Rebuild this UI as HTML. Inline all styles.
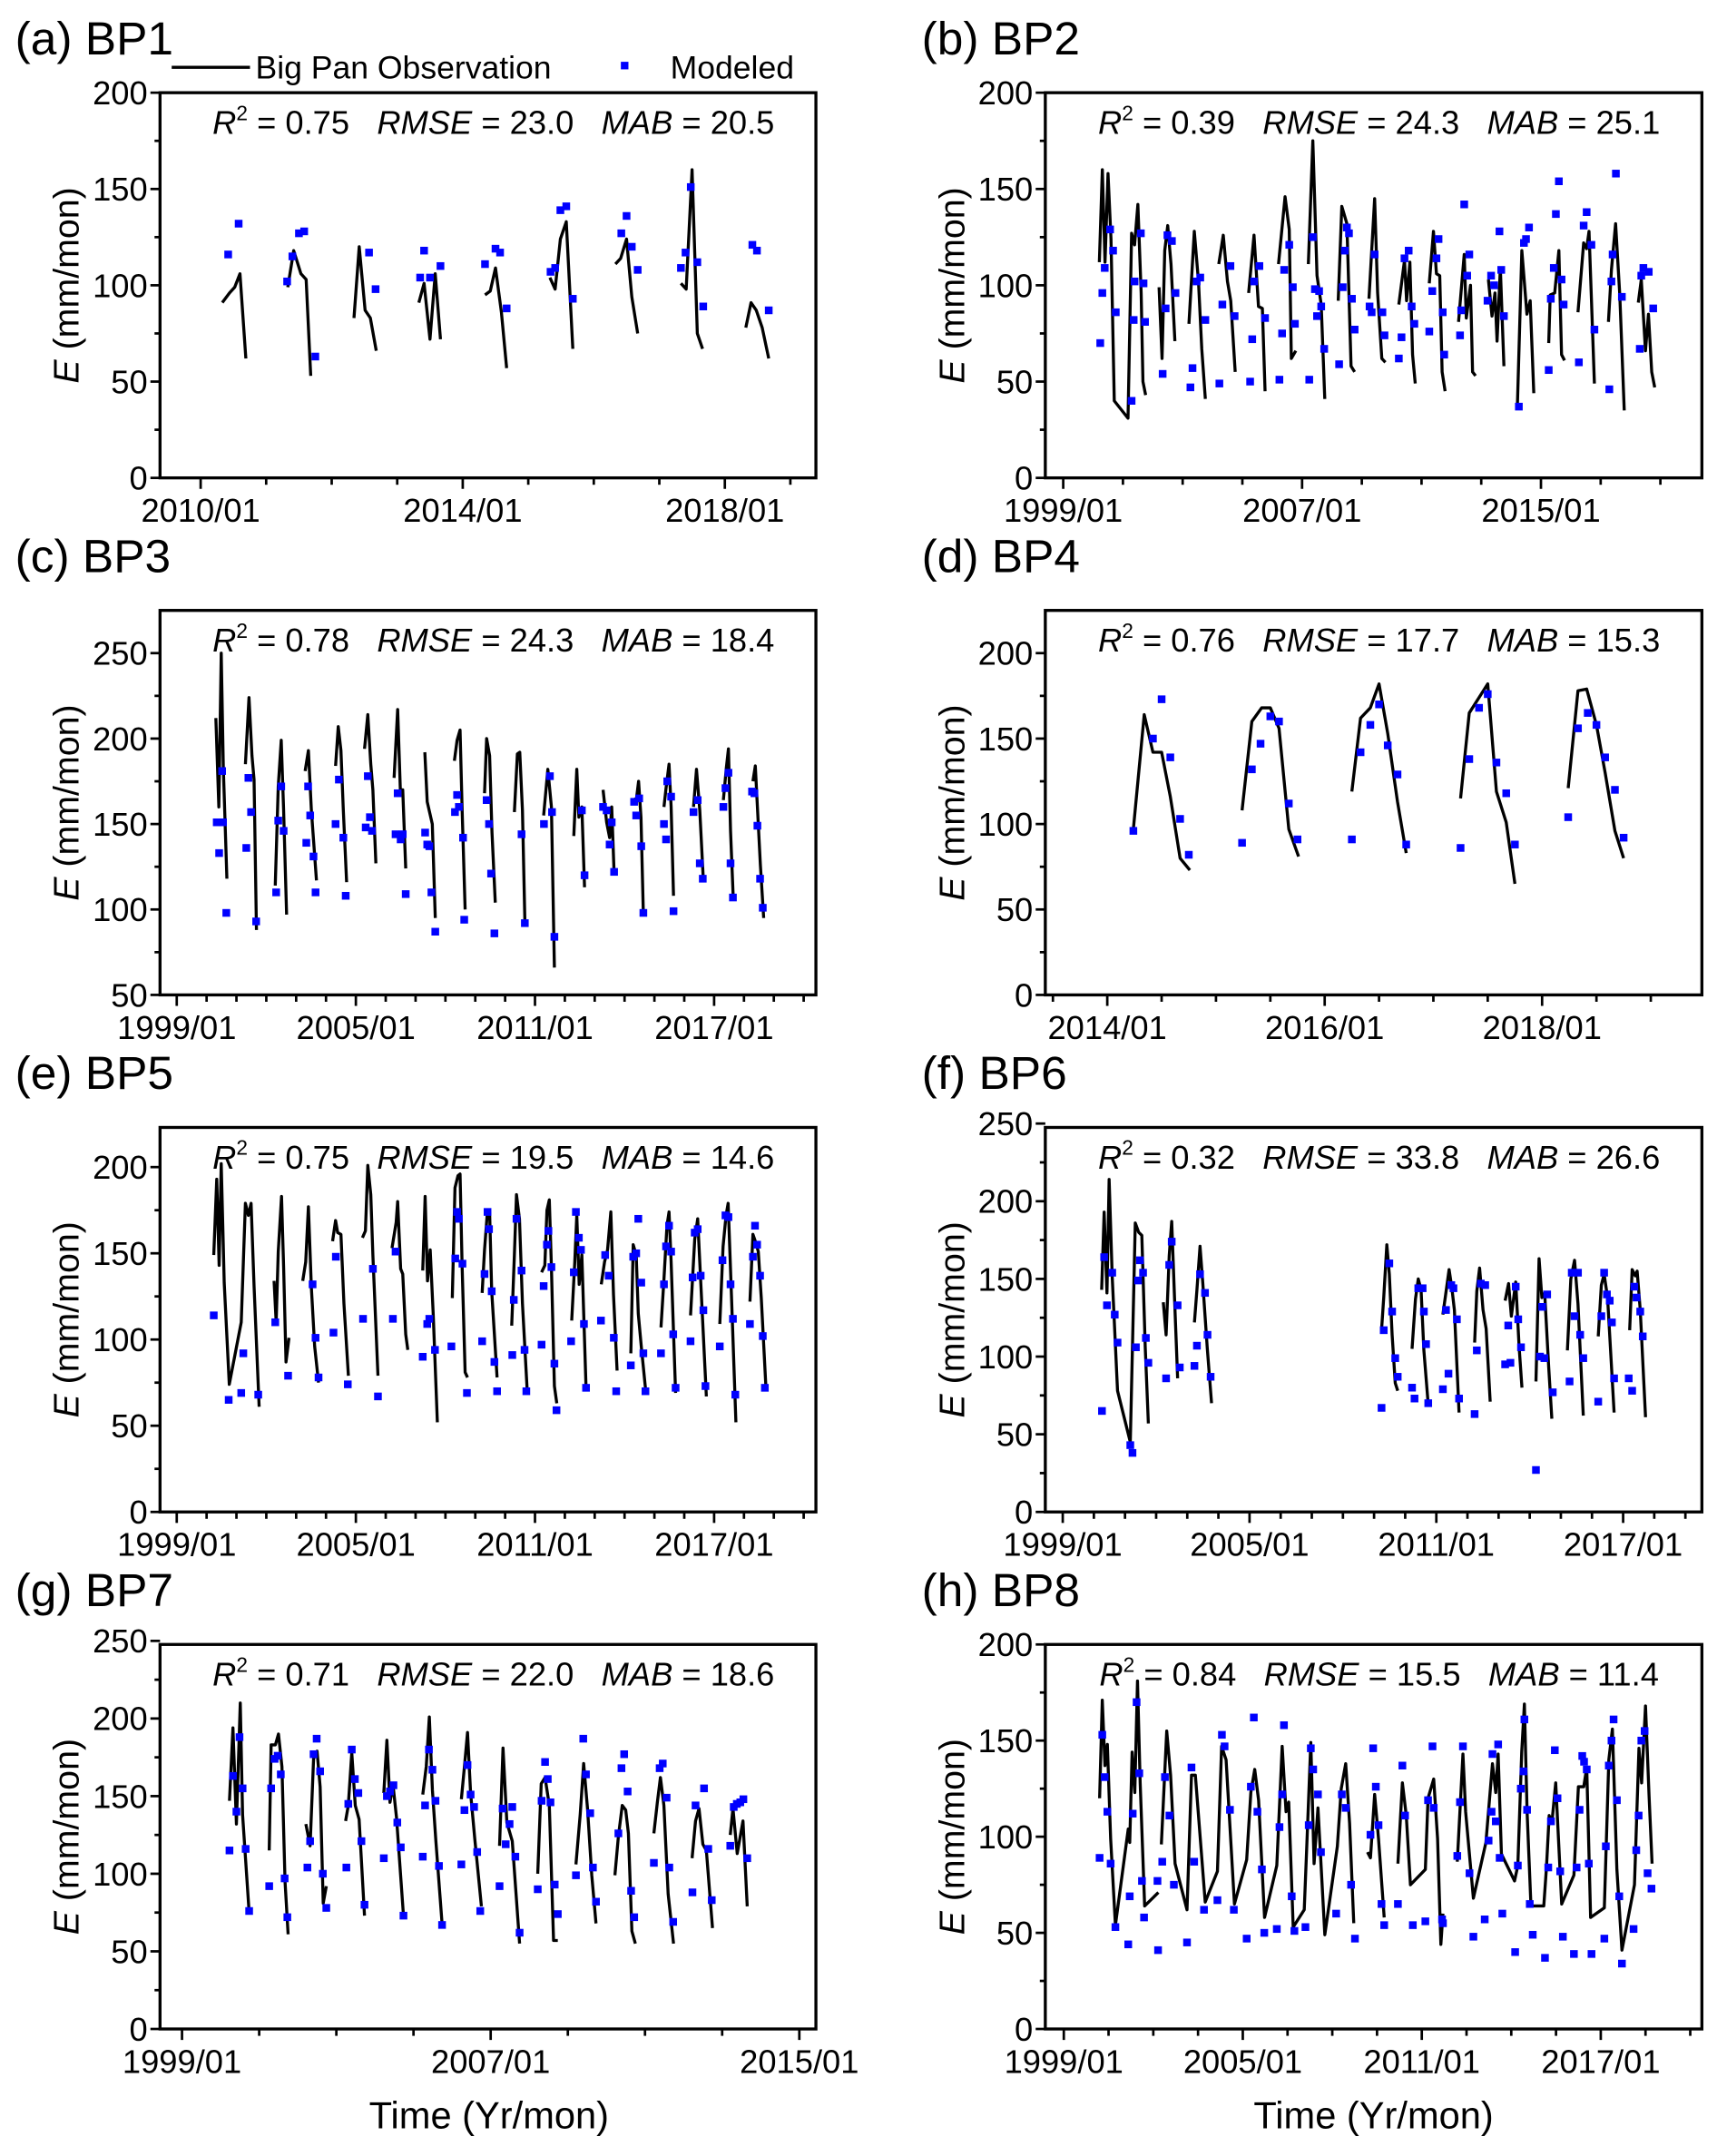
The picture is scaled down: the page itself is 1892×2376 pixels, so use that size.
<!DOCTYPE html>
<html><head><meta charset="utf-8"><title>Big Pan E comparison</title>
<style>
html,body{margin:0;padding:0;background:#fff;}
svg{display:block;font-family:"Liberation Sans",Arial,sans-serif;}
text{white-space:pre;}
</style></head>
<body>
<svg id="fig" width="1892" height="2376" viewBox="0 0 1250 1570" preserveAspectRatio="none" xmlns="http://www.w3.org/2000/svg">
<g>
<line x1="125" y1="49" x2="182" y2="49" stroke="#000" stroke-width="2.2"/>
<text x="186" y="57" font-size="23.5">Big Pan Observation</text>
<rect x="452" y="45" width="5.5" height="5.5" fill="#0000ff"/>
<text x="488" y="57" font-size="23.5">Modeled</text>
</g>
<text x="356" y="1550" font-size="27.5" text-anchor="middle">Time (Yr/mon)</text>
<text x="1000" y="1550" font-size="27.5" text-anchor="middle">Time (Yr/mon)</text>
</svg>
<script>
// ---- Panel (a) BP1 ----
const aObsT=[[2010.33,2010.44,2010.52,2010.6,2010.69],[2011.33,2011.42,2011.53,2011.61,2011.68],[2012.34,2012.42,2012.51,2012.59,2012.68],[2013.33,2013.41,2013.5,2013.58,2013.66],[2014.34,2014.42,2014.5,2014.59,2014.67],[2015.33,2015.41,2015.49,2015.58,2015.68],[2016.33,2016.41,2016.5,2016.58,2016.67],[2017.33,2017.41,2017.5,2017.58,2017.66],[2018.32,2018.4,2018.48,2018.57,2018.67]];
const aObsV=[[91,96,99,106,62],[99,118,106,103,53],[83,120,87,83,66],[91,101,72,106,72],[95,97,109,86,57],[104,98,124,133,67],[111,114,124,94,75],[101,98,160,75,67],[78,91,87,78,62]];
const aModT=[2010.42,2010.58,2011.32,2011.4,2011.5,2011.58,2011.75,2012.57,2012.67,2013.35,2013.41,2013.5,2013.66,2014.34,2014.5,2014.57,2014.67,2015.34,2015.41,2015.49,2015.58,2015.68,2016.42,2016.5,2016.58,2016.67,2017.33,2017.4,2017.48,2017.58,2017.67,2018.42,2018.49,2018.67];
const aModV=[116,132,102,115,127,128,63,117,98,104,118,104,110,111,119,117,88,107,109,139,141,93,127,136,120,108,109,117,151,112,89,121,118,87];
// ---- Panel (b) BP2 ----
const bObsT=[[2000.21,2000.31,2000.40,2000.50,2000.60,2000.71,2001.17,2001.29,2001.39,2001.5,2001.61,2001.67,2001.76],[2002.21,2002.31,2002.4,2002.5,2002.61,2002.74],[2003.21,2003.39,2003.53,2003.64,2003.76],[2004.21,2004.36,2004.5,2004.61,2004.76],[2005.21,2005.39,2005.54,2005.67,2005.76],[2006.21,2006.43,2006.57,2006.64,2006.79],[2007.21,2007.36,2007.5,2007.64,2007.76],[2008.21,2008.33,2008.5,2008.64,2008.76],[2009.24,2009.43,2009.53,2009.67,2009.79],[2010.24,2010.43,2010.5,2010.61,2010.7,2010.79],[2011.26,2011.4,2011.5,2011.61,2011.69,2011.79],[2012.24,2012.43,2012.5,2012.64,2012.71,2012.81],[2013.24,2013.36,2013.46,2013.53,2013.64,2013.76],[2014.21,2014.36,2014.53,2014.64,2014.76],[2015.26,2015.31,2015.46,2015.6,2015.69,2015.79],[2016.24,2016.43,2016.53,2016.61,2016.79],[2017.26,2017.36,2017.5,2017.64,2017.79],[2018.26,2018.36,2018.5,2018.6,2018.71,2018.81]];
const bObsV=[[112,160,112,158,124,40,31,127,121,142,96,50,43],[99,62,118,131,111,71],[80,128,102,67,41],[111,126,102,92,55],[96,126,89,88,45],[111,146,129,62,66],[111,175,105,90,41],[92,141,132,58,55],[93,145,96,62,60],[90,113,92,112,64,49],[101,128,106,105,55,45],[81,116,83,100,55,53],[103,84,96,71,109,58],[37,118,85,92,44],[70,95,96,118,64,61],[86,122,119,128,49],[81,108,132,95,35],[91,103,66,85,55,47]];
const bModT=[2000.24,2000.31,2000.39,2000.57,2000.67,2000.76,2001.29,2001.36,2001.39,2001.6,2001.69,2001.74,2002.33,2002.43,2002.49,2002.64,2002.76,2003.26,2003.33,2003.47,2003.59,2003.76,2004.23,2004.33,2004.6,2004.74,2005.26,2005.33,2005.39,2005.57,2005.76,2006.24,2006.33,2006.4,2006.57,2006.69,2006.76,2007.24,2007.36,2007.43,2007.5,2007.57,2007.64,2007.74,2008.24,2008.36,2008.43,2008.5,2008.57,2008.67,2008.76,2009.26,2009.33,2009.43,2009.69,2009.76,2010.24,2010.33,2010.43,2010.57,2010.67,2010.76,2011.26,2011.36,2011.5,2011.57,2011.71,2011.76,2012.29,2012.33,2012.43,2012.53,2012.6,2013.21,2013.33,2013.43,2013.61,2013.67,2013.76,2014.26,2014.43,2014.5,2014.6,2015.26,2015.33,2015.43,2015.5,2015.6,2015.69,2015.76,2016.27,2016.43,2016.53,2016.69,2016.79,2017.29,2017.36,2017.4,2017.51,2017.71,2018.31,2018.36,2018.43,2018.61,2018.76];
const bModV=[70,96,109,129,118,86,40,82,102,127,101,81,54,88,126,123,96,47,57,102,104,82,49,90,110,84,50,72,102,110,83,51,75,108,121,99,80,51,125,98,84,97,89,67,59,99,118,130,127,93,77,89,86,116,86,74,62,73,114,118,89,80,76,97,114,124,86,64,74,87,142,105,116,92,105,100,128,108,84,37,122,124,130,56,93,109,137,154,103,90,60,131,138,121,77,46,102,116,158,94,67,105,109,107,88];
// ---- Panel (c) BP3 ----
const cObsT=[[2000.31,2000.41,2000.49,2000.56,2000.68],[2001.3,2001.42,2001.52,2001.59,2001.67],[2002.3,2002.4,2002.5,2002.58,2002.68],[2003.3,2003.41,2003.51,2003.68],[2004.32,2004.41,2004.5,2004.58,2004.69],[2005.29,2005.4,2005.5,2005.57,2005.67],[2006.28,2006.4,2006.49,2006.57,2006.67],[2007.31,2007.39,2007.56,2007.66],[2008.3,2008.39,2008.49,2008.56,2008.66],[2009.31,2009.38,2009.48,2009.56,2009.67],[2010.31,2010.41,2010.49,2010.58,2010.66],[2011.29,2011.43,2011.55,2011.65],[2012.3,2012.4,2012.47,2012.57,2012.66],[2013.28,2013.4,2013.5,2013.57,2013.65],[2014.28,2014.4,2014.47,2014.55,2014.63],[2015.32,2015.39,2015.49,2015.56,2015.64],[2016.31,2016.41,2016.52,2016.64],[2017.31,2017.41,2017.48,2017.55,2017.64],[2018.3,2018.38,2018.45,2018.55,2018.66]];
const cObsV=[[212,160,250,183,118],[185,224,190,176,88],[114,172,199,158,97],[181,193,158,117],[184,207,193,158,116],[194,214,185,170,127],[177,217,170,170,124],[192,163,150,95],[187,199,205,158,100],[168,200,190,145,104],[157,191,192,158,94],[155,182,160,66],[143,182,154,160,113],[170,151,142,160,121],[164,165,175,154,97],[160,171,185,160,108],[160,182,158,117],[164,183,194,146,107],[175,184,160,126,95]];
const cModT=[2000.34,2000.42,2000.52,2000.55,2000.66,2001.33,2001.4,2001.49,2001.66,2002.33,2002.4,2002.5,2002.58,2003.34,2003.4,2003.47,2003.58,2003.65,2004.32,2004.43,2004.58,2004.66,2005.33,2005.4,2005.47,2005.54,2006.33,2006.4,2006.5,2006.57,2006.67,2007.32,2007.39,2007.46,2007.53,2007.66,2008.32,2008.39,2008.45,2008.59,2008.63,2009.38,2009.46,2009.53,2009.64,2010.55,2010.66,2011.3,2011.5,2011.57,2011.65,2012.57,2012.66,2013.28,2013.4,2013.5,2013.57,2013.65,2014.32,2014.39,2014.49,2014.56,2014.63,2015.32,2015.39,2015.43,2015.56,2015.64,2016.31,2016.45,2016.52,2016.62,2017.31,2017.38,2017.48,2017.55,2017.63,2018.27,2018.35,2018.45,2018.54,2018.63];
const cModV=[151,133,181,151,98,136,177,157,93,110,152,172,146,139,172,155,131,110,150,176,142,108,148,178,154,146,144,168,141,144,109,145,138,137,110,87,157,167,160,142,94,164,150,121,86,144,92,150,178,157,84,158,120,160,158,138,151,122,163,155,165,137,98,150,141,175,166,99,157,164,127,118,160,171,180,127,107,169,168,149,118,101];
// ---- Panel (d) BP4 ----
const dObsT=[[2014.24,2014.34,2014.42,2014.5,2014.58,2014.67,2014.76],[2015.24,2015.33,2015.42,2015.5,2015.58,2015.67,2015.76],[2016.25,2016.33,2016.42,2016.5,2016.58,2016.67,2016.75],[2017.25,2017.33,2017.42,2017.5,2017.58,2017.67,2017.75],[2018.24,2018.33,2018.41,2018.5,2018.58,2018.67,2018.75]];
const dObsV=[[97,164,142,142,116,80,73],[108,160,168,168,156,97,81],[119,162,168,182,153,113,83],[115,165,174,182,119,101,65],[121,178,179,158,130,96,80]];
const dModT=[2014.24,2014.42,2014.5,2014.58,2014.67,2014.75,2015.24,2015.33,2015.41,2015.5,2015.58,2015.67,2015.75,2016.25,2016.33,2016.42,2016.5,2016.58,2016.67,2016.75,2017.25,2017.33,2017.42,2017.5,2017.58,2017.67,2017.75,2018.24,2018.33,2018.42,2018.5,2018.58,2018.67,2018.75];
const dModV=[96,150,173,139,103,82,89,132,147,163,160,112,91,91,142,158,170,146,129,88,86,138,168,176,136,118,88,104,156,165,158,139,120,92];
// ---- Panel (e) BP5 ----
const eObsT=[[2000.24,2000.34,2000.42,2000.49,2000.59,2000.76,2001.16,2001.3,2001.4,2001.49,2001.59,2001.76],[2002.26,2002.33,2002.4,2002.51,2002.58,2002.66,2002.76],[2003.22,2003.32,2003.41,2003.51,2003.62,2003.75],[2004.22,2004.32,2004.39,2004.5,2004.6,2004.75],[2005.22,2005.32,2005.4,2005.5,2005.57,2005.74],[2006.21,2006.35,2006.4,2006.5,2006.57,2006.67,2006.74],[2007.24,2007.32,2007.4,2007.49,2007.59,2007.73],[2008.23,2008.32,2008.42,2008.49,2008.56,2008.66,2008.74],[2009.23,2009.31,2009.41,2009.48,2009.55,2009.73],[2010.22,2010.31,2010.38,2010.48,2010.58,2010.74],[2011.22,2011.33,2011.4,2011.48,2011.55,2011.65,2011.73],[2012.23,2012.33,2012.4,2012.48,2012.57,2012.71],[2013.22,2013.33,2013.43,2013.54,2013.63,2013.75],[2014.21,2014.29,2014.39,2014.46,2014.56,2014.71],[2015.22,2015.32,2015.42,2015.49,2015.56,2015.71],[2016.21,2016.35,2016.45,2016.55,2016.74],[2017.19,2017.3,2017.4,2017.47,2017.58,2017.73],[2018.2,2018.3,2018.4,2018.48,2018.58,2018.73]];
const eObsV=[[149,193,143,202,133,74,110,179,172,179,131,61],[134,110,151,183,142,87,101],[134,145,177,130,96,75],[157,169,162,161,121,79],[159,163,201,184,149,79],[153,168,180,141,138,103,94],[140,183,134,152,115,52],[124,188,195,196,142,81,78],[127,152,175,174,128,78],[108,149,184,170,121,70],[139,143,175,181,142,73,63],[111,144,172,132,149,72],[132,145,152,174,126,82],[92,155,149,115,96,70],[107,135,166,174,145,69],[114,158,170,134,67],[109,154,172,179,126,52],[122,161,156,151,124,74]];
const eModT=[2000.24,2000.74,2001.16,2001.23,2001.73,2002.3,2002.73,2003.55,2003.65,2003.75,2004.25,2004.33,2004.73,2005.24,2005.57,2005.74,2006.24,2006.33,2007.24,2007.39,2007.46,2007.65,2008.2,2008.33,2008.39,2008.45,2008.57,2008.72,2009.23,2009.31,2009.41,2009.46,2009.55,2009.64,2009.73,2010.24,2010.29,2010.38,2010.55,2010.65,2010.71,2011.22,2011.29,2011.4,2011.45,2011.55,2011.65,2011.72,2012.21,2012.3,2012.37,2012.47,2012.54,2012.64,2012.71,2013.21,2013.35,2013.47,2013.64,2013.72,2014.21,2014.29,2014.39,2014.46,2014.56,2014.63,2014.7,2015.22,2015.32,2015.39,2015.49,2015.56,2015.63,2015.71,2016.21,2016.28,2016.35,2016.45,2016.55,2016.64,2016.71,2017.19,2017.28,2017.38,2017.48,2017.55,2017.63,2017.71,2018.2,2018.3,2018.37,2018.44,2018.54,2018.63,2018.7];
const eModV=[114,65,69,92,68,110,79,132,101,78,104,148,74,112,141,67,112,151,90,109,112,94,96,147,174,170,144,69,99,138,174,164,128,87,70,91,123,170,140,94,70,97,131,155,163,142,86,59,99,139,174,159,152,109,72,111,149,137,101,70,85,148,150,170,133,92,70,92,132,154,166,151,103,72,99,136,162,164,137,117,73,96,146,172,171,132,112,68,109,148,166,155,137,102,72];
// ---- Panel (f) BP6 ----
const fObsT=[[2000.25,2000.33,2000.42,2000.49,2000.59,2000.76,2001.17,2001.33,2001.44,2001.54,2001.65,2001.75],[2002.23,2002.32,2002.42,2002.5,2002.59,2002.69],[2003.23,2003.31,2003.41,2003.5,2003.64,2003.78],[2009.24,2009.31,2009.41,2009.49,2009.58,2009.68,2009.76],[2010.22,2010.33,2010.42,2010.51,2010.6,2010.74],[2011.21,2011.3,2011.41,2011.5,2011.58,2011.73],[2012.23,2012.3,2012.39,2012.5,2012.6,2012.73],[2013.21,2013.32,2013.41,2013.55,2013.66,2013.75],[2014.2,2014.3,2014.39,2014.48,2014.61,2014.71],[2015.21,2015.32,2015.44,2015.55,2015.72],[2016.2,2016.3,2016.39,2016.5,2016.71],[2017.21,2017.29,2017.39,2017.45,2017.55,2017.72]];
const fObsV=[[143,193,141,214,151,78,45,186,180,178,106,57],[135,114,165,187,138,86],[122,143,171,147,106,70],[117,138,172,153,114,83,78],[105,137,150,143,104,69],[127,140,156,144,130,64],[109,142,157,130,118,71],[136,147,126,148,106,80],[84,163,138,141,93,60],[104,150,162,134,62],[113,146,153,138,64],[117,156,152,155,130,61]];
const fModT=[2000.26,2000.33,2000.42,2000.59,2000.67,2000.76,2001.17,2001.24,2001.35,2001.42,2001.48,2001.58,2001.67,2001.75,2002.32,2002.42,2002.5,2002.69,2002.76,2003.23,2003.31,2003.41,2003.57,2003.65,2003.75,2009.24,2009.31,2009.49,2009.58,2009.68,2009.76,2010.22,2010.3,2010.42,2010.56,2010.6,2010.67,2010.74,2011.21,2011.31,2011.39,2011.48,2011.55,2011.66,2011.73,2012.23,2012.3,2012.43,2012.57,2013.21,2013.31,2013.38,2013.55,2013.63,2013.72,2014.2,2014.33,2014.4,2014.47,2014.56,2014.74,2015.28,2015.35,2015.44,2015.55,2015.62,2015.72,2016.2,2016.3,2016.39,2016.48,2016.57,2016.64,2016.71,2017.18,2017.29,2017.36,2017.43,2017.55,2017.63];
const fModV=[65,164,133,154,127,109,43,38,106,149,162,154,112,96,86,159,174,133,93,94,107,153,141,114,87,67,117,160,129,99,87,80,73,144,144,129,108,70,79,130,89,146,144,124,73,63,104,147,146,95,120,96,145,124,106,27,100,132,99,140,77,84,154,126,154,114,99,71,126,154,140,136,122,86,86,78,145,138,129,113];
// ---- Panel (g) BP7 ----
const gObsT=[[2000.23,2000.32,2000.41,2000.51,2000.57,2000.74],[2001.26,2001.31,2001.42,2001.5,2001.59,2001.67,2001.75],[2002.21,2002.32,2002.41,2002.5,2002.58,2002.66,2002.74],[2003.24,2003.31,2003.4,2003.49,2003.59,2003.73],[2004.23,2004.31,2004.39,2004.47,2004.56,2004.74],[2005.24,2005.33,2005.41,2005.49,2005.58,2005.74],[2006.24,2006.32,2006.4,2006.48,2006.59,2006.76],[2007.23,2007.32,2007.42,2007.56,2007.75],[2008.22,2008.31,2008.41,2008.52,2008.63,2008.74],[2009.21,2009.32,2009.41,2009.51,2009.62,2009.73],[2010.22,2010.31,2010.41,2010.5,2010.57,2010.66,2010.75],[2011.23,2011.32,2011.4,2011.49,2011.6,2011.74],[2012.22,2012.31,2012.4,2012.5,2012.59,2012.75],[2013.21,2013.28,2013.39,2013.54,2013.65]];
const gObsV=[[147,194,132,210,138,75],[115,183,183,190,169,95,61],[132,118,174,179,156,81,92],[134,144,178,144,135,73],[152,186,146,157,136,73],[151,169,201,154,121,68],[148,169,191,152,122,79],[118,181,133,121,55],[100,158,162,144,57,57],[106,138,171,142,99,68],[99,124,144,141,126,63,55],[126,146,162,144,87,55],[110,134,142,119,115,65],[125,142,113,134,79]];
const gModT=[2000.23,2000.32,2000.41,2000.49,2000.57,2000.65,2000.74,2001.26,2001.31,2001.4,2001.48,2001.56,2001.66,2001.73,2002.25,2002.32,2002.41,2002.49,2002.58,2002.65,2002.74,2003.26,2003.31,2003.4,2003.48,2003.57,2003.65,2003.73,2004.23,2004.31,2004.39,2004.48,2004.58,2004.67,2004.74,2005.24,2005.3,2005.4,2005.49,2005.57,2005.66,2005.74,2006.24,2006.32,2006.4,2006.48,2006.57,2006.65,2006.73,2007.23,2007.31,2007.39,2007.49,2007.56,2007.64,2007.75,2008.22,2008.32,2008.41,2008.48,2008.55,2008.66,2008.74,2009.21,2009.4,2009.47,2009.58,2009.65,2009.73,2010.31,2010.39,2010.46,2010.55,2010.64,2010.72,2011.23,2011.38,2011.46,2011.56,2011.63,2011.73,2012.23,2012.31,2012.53,2012.64,2012.73,2013.21,2013.3,2013.38,2013.47,2013.55,2013.65];
const gModV=[115,163,140,188,155,116,76,92,155,174,176,164,97,72,104,121,177,187,166,100,78,104,145,180,161,152,121,80,110,150,153,157,133,117,73,111,144,180,167,147,105,67,106,141,170,151,143,114,76,92,142,119,132,143,111,62,90,147,172,161,146,93,74,99,187,164,139,104,82,126,168,177,153,89,72,107,168,171,149,104,69,88,144,155,116,83,118,143,145,146,148,110];
// ---- Panel (h) BP8 ----
const hObsT=[[2000.2,2000.29,2000.38,2000.46,2000.57,2000.73,2001.16,2001.21,2001.29,2001.38,2001.47,2001.56,2001.71,2002.17],[2002.27,2002.45,2002.58,2002.73,2003.13,2003.28,2003.41,2003.74,2004.15,2004.29,2004.44,2004.72,2005.13,2005.27,2005.4,2005.53,2005.73,2006.14,2006.32,2006.45,2006.54,2006.69,2007.06,2007.15,2007.28,2007.39,2007.52,2007.75,2008.17,2008.3,2008.45,2008.58,2008.72],[2009.18,2009.28,2009.42,2009.55,2009.74],[2010.2,2010.35,2010.48,2010.62,2011.12,2011.21,2011.4,2011.53,2011.64,2011.71],[2012.19,2012.38,2012.47,2012.73,2013.15,2013.37,2013.48,2013.56,2013.67,2014.11,2014.22,2014.35,2014.44,2014.53,2014.66,2015.09,2015.18,2015.27,2015.36,2015.49,2015.69,2016.1,2016.25,2016.43,2016.53,2016.66,2017.12,2017.27,2017.39,2017.54,2017.71,2018.13,2018.28,2018.37,2018.5,2018.62,2018.72]];
const hObsV=[[120,171,137,148,99,54,104,97,144,123,181,128,64,71],[96,155,132,86,62,132,132,66,82,147,140,65,88,123,135,119,58,85,147,113,118,53,62,97,149,86,115,49,95,125,138,107,55],[92,89,122,99,58],[86,128,111,75,83,120,130,99,44,60],[87,143,113,68,97,138,123,143,91,77,85,144,169,113,64,64,84,111,107,128,65,80,126,126,136,58,63,140,156,83,41,75,146,128,168,121,86]];
const hModT=[2000.2,2000.29,2000.37,2000.46,2000.57,2000.73,2001.16,2001.21,2001.31,2001.44,2001.53,2001.62,2001.69,2002.14,2002.16,2002.3,2002.39,2002.54,2002.69,2003.13,2003.28,2003.37,2003.7,2004.15,2004.3,2004.39,2004.57,2004.7,2005.13,2005.27,2005.37,2005.49,2005.64,2005.72,2006.14,2006.23,2006.32,2006.38,2006.64,2006.73,2007.1,2007.21,2007.28,2007.36,2007.52,2007.62,2008.13,2008.32,2008.45,2008.63,2008.76,2009.28,2009.37,2009.46,2009.55,2009.65,2009.74,2010.2,2010.35,2010.44,2010.7,2011.12,2011.21,2011.36,2011.4,2011.68,2011.71,2012.19,2012.28,2012.38,2012.6,2012.73,2013.11,2013.24,2013.34,2013.37,2013.48,2013.56,2013.61,2013.7,2014.13,2014.22,2014.32,2014.41,2014.44,2014.53,2014.62,2014.72,2015.13,2015.24,2015.33,2015.46,2015.55,2015.64,2015.73,2016.1,2016.19,2016.29,2016.38,2016.44,2016.53,2016.6,2016.69,2017.12,2017.17,2017.27,2017.36,2017.43,2017.54,2017.62,2017.71,2018.1,2018.19,2018.27,2018.36,2018.47,2018.57,2018.7];
const hModV=[89,153,131,113,86,53,44,69,112,170,133,77,58,77,41,87,131,111,75,45,136,87,62,67,153,147,114,62,47,126,162,113,83,50,52,105,122,158,69,51,53,106,146,135,122,92,60,122,115,75,47,101,146,126,106,65,54,65,137,111,54,56,119,147,115,57,55,90,118,147,81,48,57,98,113,143,108,148,89,60,40,85,125,134,161,114,65,49,37,84,108,145,120,82,48,39,84,114,142,139,135,86,39,47,95,137,150,161,119,69,34,52,93,111,150,155,81,73];
// ---- Stats and axis tick labels ----
const panelLetters=['a','b','c','d','e','f','g','h'];
const statR2=['0.75','0.39','0.78','0.76','0.75','0.32','0.71','0.84'];
const statRMSE=['23.0','24.3','24.3','17.7','19.5','33.8','22.0','15.5'];
const statMAB=['20.5','25.1','18.4','15.3','14.6','26.6','18.6','11.4'];
const xLabelYears=[[2010,2014,2018],[1999,2007,2015],[1999,2005,2011,2017],[2014,2016,2018],[1999,2005,2011,2017],[1999,2005,2011,2017],[1999,2007,2015],[1999,2005,2011,2017]];
const yTickValues=[[0,50,100,150,200],[0,50,100,150,200],[50,100,150,200,250],[0,50,100,150,200],[0,50,100,150,200],[0,50,100,150,200,250],[0,50,100,150,200,250],[0,50,100,150,200]];

const obsT=[aObsT,bObsT,cObsT,dObsT,eObsT,fObsT,gObsT,hObsT];
const obsV=[aObsV,bObsV,cObsV,dObsV,eObsV,fObsV,gObsV,hObsV];
const modT=[aModT,bModT,cModT,dModT,eModT,fModT,gModT,hModT];
const modV=[aModV,bModV,cModV,dModV,eModV,fModV,gModV,hModV];

// layout (not data)
const cols=[[116.5,594],[761,1239]];
const rows=[[67.5,348],[444.5,724.5],[821,1101],[1197.5,1477.5]];
const xDom=[[2009.38,2019.39],[1998.4,2020.39],[1998.44,2020.41],[2013.43,2019.47],[1998.44,2020.41],[1998.44,2019.53],[1998.43,2015.43],[1998.38,2020.39]];
const xMinorStep=[1,2,1,0.5,1,1,2,1.5];
const yDom=[[0,200],[0,200],[50,275],[0,225],[0,223],[0,247.5],[0,247.7],[0,200]];

const NS='http://www.w3.org/2000/svg';
const svg=document.getElementById('fig');
function mk(tag,attrs,parent){const e=document.createElementNS(NS,tag);for(const k in attrs)e.setAttribute(k,attrs[k]);parent.appendChild(e);return e;}

for(let p=0;p<8;p++){
  const [x0,x1]=cols[p%2], [y0,y1]=rows[Math.floor(p/2)];
  const [d0,d1]=xDom[p], [v0,v1]=yDom[p];
  const X=t=>x0+(t-d0)/(d1-d0)*(x1-x0);
  const Y=v=>y1-(v-v0)/(v1-v0)*(y1-y0);
  const g=mk('g',{},svg);
  
  
  const title=mk('text',{x:(p%2?671:11),y:y0-28,'font-size':34},g);
  title.textContent='('+panelLetters[p]+') BP'+(p+1);
  
  
  const yt=yTickValues[p];
  const yStep=yt[1]-yt[0];
  for(let v=yt[0];v<=yt[yt.length-1]+0.001;v+=yStep/2){
    const yy=Y(v); if(yy<y0-4) continue;
    const major=Math.abs((v-yt[0])%yStep)<0.001;
    const tk=mk('line',{x1:x0-(major?7:4),x2:x0,y1:yy,y2:yy,stroke:'#000','stroke-width':1.8},g);
    
    
  }
  yt.forEach(v=>{
    const lb=mk('text',{x:x0-9,y:Y(v)+8.5,'font-size':24,'text-anchor':'end'},g);
    lb.textContent=String(v);
    
    
  });
  const xl=xLabelYears[p];
  const st=xMinorStep[p];
  for(let t=xl[0]-Math.ceil((xl[0]-d0)/st)*st;t<=d1;t+=st){
    const xx=X(t); if(xx<x0-0.5||xx>x1+0.5) continue;
    const major=xl.some(y=>Math.abs(y-t)<0.01);
    const tk=mk('line',{x1:xx,x2:xx,y1:y1,y2:y1+(major?8:5),stroke:'#000','stroke-width':1.8},g);
    
    
  }
  xl.forEach(yr=>{
    const lb=mk('text',{x:X(yr),y:y1+32,'font-size':24,'text-anchor':'middle'},g);
    lb.textContent=yr+'/01';
    
    
  });
  const cy=(y0+y1)/2, tx=(p%2?702:57);
  const yTitle=mk('text',{x:tx,y:cy,'font-size':26,'text-anchor':'middle',transform:'rotate(-90 '+tx+' '+cy+')'},g);
  
  
  const te=mk('tspan',{'font-style':'italic'},yTitle); te.textContent='E';
  const tr=mk('tspan',{},yTitle); tr.textContent=' (mm/mon)';
  const segsT=obsT[p], segsV=obsV[p];
  for(let s=0;s<segsT.length;s++){
    const pts=[];
    const n=Math.min(segsT[s].length,segsV[s].length);
    for(let i=0;i<n;i++) pts.push(X(segsT[s][i]).toFixed(2)+','+Y(segsV[s][i]).toFixed(2));
    const pl=mk('polyline',{points:pts.join(' '),fill:'none',stroke:'#000','stroke-width':2.2,'stroke-linejoin':'round'},g);
    
    
  }
  const mt=modT[p], mv=modV[p];
  const nm=Math.min(mt.length,mv.length);
  for(let i=0;i<nm;i++){
    const r=mk('rect',{x:X(mt[i])-2.8,y:Y(mv[i])-2.8,width:5.6,height:5.6,fill:'#0000ff'},g);
    
    
  }
  const fr=mk('rect',{x:x0,y:y0,width:x1-x0,height:y1-y0,fill:'none',stroke:'#000','stroke-width':2.2},g);
  
  
  const stt=mk('text',{x:(x0+x1)/2+4,y:y0+30,'font-size':24,'text-anchor':'middle'},g);
  
  
  const parts=[['R',true],['2',false,true],[' = '+statR2[p]+'   ',false],['RMSE',true],[' = '+statRMSE[p]+'   ',false],['MAB',true],[' = '+statMAB[p],false]];
  parts.forEach(([s,it,sup])=>{
    const ts=mk('tspan',{},stt);
    if(it) ts.setAttribute('font-style','italic');
    if(sup){ts.setAttribute('font-size','15');ts.setAttribute('dy','-10');}
    else if(ts.previousSibling && ts.previousSibling.getAttribute('dy')==='-10'){ts.setAttribute('dy','10');}
    ts.textContent=s;
  });
}
</script>
</body></html>
